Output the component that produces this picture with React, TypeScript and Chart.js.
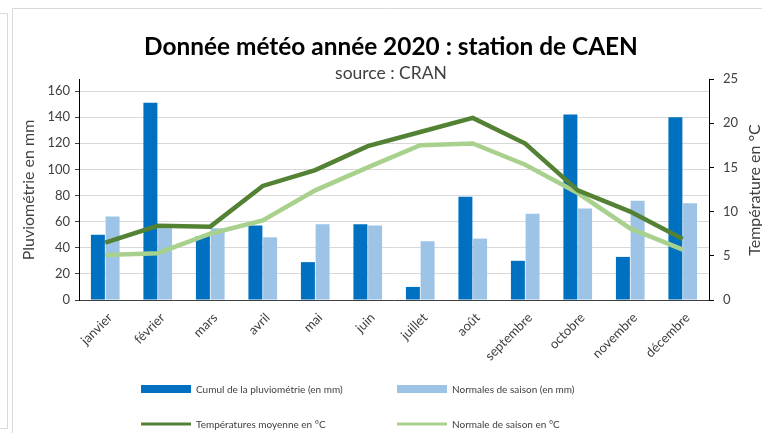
import React, { useEffect, useRef } from "react";
import { Chart, registerables } from "chart.js";

Chart.register(...registerables);

const months = ["janvier", "février", "mars", "avril", "mai", "juin", "juillet", "août", "septembre", "octobre", "novembre", "décembre"];
const rainfall = [50, 151, 49, 57, 29, 58, 10, 79, 30, 142, 33, 140];
const rainNormal = [64, 55, 55, 48, 58, 57, 45, 47, 66, 70, 76, 74];
const tempMean = [6.5, 8.4, 8.3, 12.9, 14.7, 17.4, 19.0, 20.6, 17.7, 12.4, 10.0, 6.9];
const tempNormal = [5.1, 5.3, 7.5, 9.0, 12.4, 15.0, 17.5, 17.7, 15.3, 12.1, 8.1, 5.7];
const leftTicks = [0, 20, 40, 60, 80, 100, 120, 140, 160];
const rightTicks = [0, 5, 10, 15, 20, 25];

const FONT = "Lato, 'Open Sans', sans-serif";
const TXT = "#404040";

const decor = {
  id: "decor",
  afterDraw(chart: any) {
    const ctx = chart.ctx as CanvasRenderingContext2D;
    ctx.save();
    ctx.strokeStyle = "#D9D9D9";
    ctx.lineWidth = 1;
    ctx.beginPath();
    ctx.moveTo(0, 13.5); ctx.lineTo(7.5, 13.5); ctx.lineTo(7.5, 428.5); ctx.lineTo(0, 428.5);
    ctx.stroke();
    ctx.beginPath();
    ctx.moveTo(12.5, 440); ctx.lineTo(12.5, 8.5); ctx.lineTo(770, 8.5);
    ctx.stroke();

    ctx.fillStyle = "#000";
    ctx.textAlign = "center";
    ctx.textBaseline = "alphabetic";
    ctx.font = `bold 24.4px ${FONT}`;
    ctx.fillText("Donnée météo année 2020 : station de CAEN", 391, 55);
    ctx.font = `17.5px ${FONT}`;
    ctx.fillStyle = TXT;
    ctx.fillText("source : CRAN", 391, 79);

    ctx.font = `16px ${FONT}`;
    ctx.textBaseline = "middle";
    ctx.save();
    ctx.translate(29, 190);
    ctx.rotate(-Math.PI / 2);
    ctx.fillText("Pluviométrie en mm", 0, 0);
    ctx.restore();
    ctx.save();
    ctx.translate(755, 190);
    ctx.rotate(-Math.PI / 2);
    ctx.fillText("Température en °C", 0, 0);
    ctx.restore();

    const items = [
      { t: "Cumul de la pluviométrie (en mm)", c: "#0070C0", bar: true, x: 141, y: 389 },
      { t: "Normales de saison (en mm)", c: "#9DC3E6", bar: true, x: 397, y: 389 },
      { t: "Températures moyenne en °C", c: "#548235", bar: false, x: 141, y: 424 },
      { t: "Normale de saison en °C", c: "#A9D18E", bar: false, x: 397, y: 424 },
    ];
    ctx.font = `10px ${FONT}`;
    ctx.textAlign = "left";
    for (const it of items) {
      ctx.fillStyle = it.c;
      if (it.bar) ctx.fillRect(it.x, it.y - 4, 50, 8);
      else ctx.fillRect(it.x, it.y - 1.5, 50, 3);
      ctx.fillStyle = TXT;
      ctx.fillText(it.t, it.x + 55, it.y + 1);
    }
    ctx.restore();
  },
};

export default function App() {
  const ref = useRef<HTMLCanvasElement>(null);
  useEffect(() => {
    document.body.style.margin = "0";
    const chart = new Chart(ref.current!, {
      type: "bar",
      data: {
        labels: months,
        datasets: [
          { type: "line", label: "Températures moyenne en °C", data: tempMean, yAxisID: "y1", borderColor: "#548235", borderWidth: 4.5, pointRadius: 0, order: 0 } as any,
          { type: "line", label: "Normale de saison en °C", data: tempNormal, yAxisID: "y1", borderColor: "#A9D18E", borderWidth: 4.5, pointRadius: 0, order: 1 } as any,
          { label: "Cumul de la pluviométrie (en mm)", data: rainfall, yAxisID: "y", backgroundColor: "#0070C0", order: 2, categoryPercentage: 0.56, barPercentage: 0.95 },
          { label: "Normales de saison (en mm)", data: rainNormal, yAxisID: "y", backgroundColor: "#9DC3E6", order: 3, categoryPercentage: 0.56, barPercentage: 0.95 },
        ],
      },
      options: {
        animation: false,
        responsive: false,
        layout: { padding: { top: 79, left: 0, right: 0, bottom: 0 } },
        plugins: { legend: { display: false }, title: { display: false }, tooltip: { enabled: false } },
        scales: {
          x: {
            grid: { display: false, drawTicks: false },
            border: { color: "#404040", width: 1 },
            ticks: { color: TXT, font: { family: FONT, size: 13 }, maxRotation: 45, minRotation: 45, padding: 10, labelOffset: 5 },
            afterFit: (s: any) => { s.height = 133; },
          },
          y: {
            position: "left",
            min: 0,
            max: 169.2,
            afterBuildTicks: (s: any) => { s.ticks = leftTicks.map((v) => ({ value: v })); },
            ticks: { color: TXT, font: { family: FONT, size: 13 }, padding: 5 },
            grid: { color: "#D9D9D9", lineWidth: 1, tickLength: 4, tickColor: "#404040" },
            border: { color: "#000", width: 1 },
            afterFit: (s: any) => { s.width = 79; },
          },
          y1: {
            position: "right",
            min: 0,
            max: 25,
            afterBuildTicks: (s: any) => { s.ticks = rightTicks.map((v) => ({ value: v })); },
            ticks: { color: TXT, font: { family: FONT, size: 13 }, padding: 9 },
            grid: { drawOnChartArea: false, tickLength: 5, tickColor: "#000" },
            border: { color: "#000", width: 1 },
            afterFit: (s: any) => { s.width = 53; },
          },
        },
      },
      plugins: [decor],
    });
    return () => chart.destroy();
  }, []);
  return <canvas ref={ref} width={762} height={433} style={{ display: "block" }} />;
}
